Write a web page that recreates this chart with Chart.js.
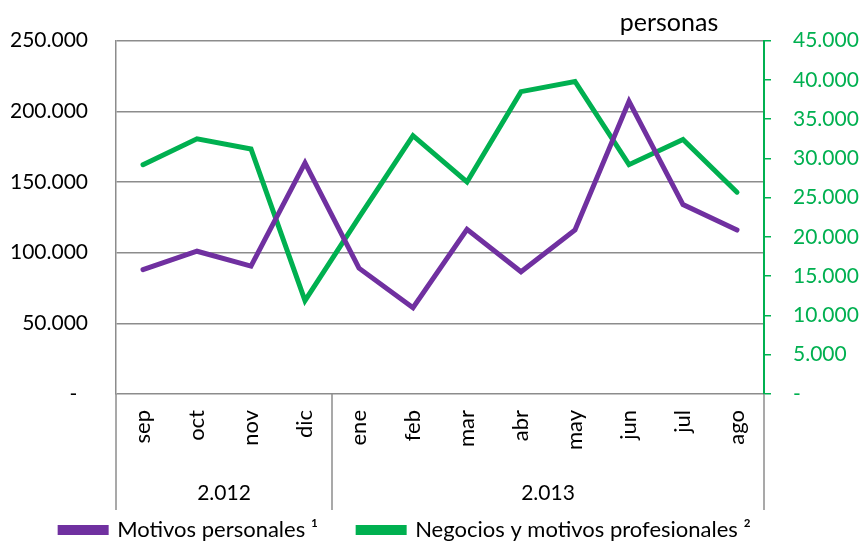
<!DOCTYPE html>
<html><head><meta charset="utf-8">
<script src="https://cdn.jsdelivr.net/npm/chart.js@4.4.0/dist/chart.umd.min.js"></script>
<style>html,body{margin:0;padding:0;background:#fff}</style>
</head><body>
<canvas id="c" width="859" height="542"></canvas>
<script>
const months = ['sep','oct','nov','dic','ene','feb','mar','abr','may','jun','jul','ago'];
const yearLabels = ['2.012','2.013'];
const yearSpans = [4, 8];
const personales = [88000, 101000, 90500, 163500, 89000, 61000, 116500, 86500, 116000, 207000, 134000, 116000];
const negocios = [29200, 32500, 31200, 11900, 22500, 32900, 27000, 38500, 39800, 29200, 32400, 25700];
const leftTickLabels = ['-  ', '50.000', '100.000', '150.000', '200.000', '250.000'];
const rightTickLabels = ['-', '5.000', '10.000', '15.000', '20.000', '25.000', '30.000', '35.000', '40.000', '45.000'];
const unitLabel = 'personas';
const seriesNames = ['Motivos personales \u00B9', 'Negocios y motivos profesionales \u00B2'];

const FONT = 'Lato';
const GRID = '#8c8c8c';
const PURPLE = '#7030A0';
const GREEN = '#00B050';

const groupPlugin = {
  id: 'groupAxis',
  afterLayout(chart) {
    if (chart.legend) { chart.legend.left -= 24; chart.legend.right -= 24; }
  },
  afterDraw(chart) {
    const {ctx, chartArea, scales} = chart;
    const x = scales.x;
    const half = (x.getPixelForValue(1) - x.getPixelForValue(0)) / 2;
    const b = chartArea.bottom;
    ctx.save();
    ctx.strokeStyle = GRID;
    ctx.lineWidth = 1.5;
    let start = 0;
    const edges = [x.getPixelForValue(0) - half];
    yearSpans.forEach(s => { start += s; edges.push(x.getPixelForValue(start - 1) + half); });
    edges.forEach(px => {
      ctx.beginPath(); ctx.moveTo(px, b); ctx.lineTo(px, b + 116); ctx.stroke();
    });
    ctx.fillStyle = '#000';
    ctx.font = '21px ' + FONT;
    ctx.textAlign = 'center';
    ctx.textBaseline = 'middle';
    yearLabels.forEach((t, i) => {
      ctx.fillText(t, (edges[i] + edges[i + 1]) / 2, b + 99);
    });
    ctx.font = '25px ' + FONT;
    ctx.fillText(unitLabel, chartArea.right - 95, chartArea.top - 18);
    ctx.restore();
  }
};

new Chart(document.getElementById('c'), {
  type: 'line',
  data: {
    labels: months,
    datasets: [
      {label: seriesNames[0], data: personales, yAxisID: 'y', borderColor: PURPLE, backgroundColor: PURPLE,
       borderWidth: 5, pointRadius: 0, tension: 0, borderCapStyle: 'round'},
      {label: seriesNames[1], data: negocios, yAxisID: 'y1', borderColor: GREEN, backgroundColor: GREEN,
       borderWidth: 5, pointRadius: 0, tension: 0, borderCapStyle: 'round'}
    ]
  },
  options: {
    responsive: false,
    devicePixelRatio: 1,
    animation: false,
    layout: {padding: {top: 38, left: 0, right: 0, bottom: -9}},
    plugins: {
      tooltip: {enabled: false},
      legend: {
        position: 'bottom',
        labels: {font: {family: FONT, size: 22}, color: '#000', boxWidth: 46, boxHeight: 5, padding: 40}
      }
    },
    scales: {
      x: {
        offset: true,
        grid: {display: false, drawTicks: false},
        border: {display: false},
        ticks: {font: {family: FONT, size: 22}, color: '#000', minRotation: 90, maxRotation: 90, padding: 16, autoSkip: false},
        afterFit(s) { s.height = 85; }
      },
      y: {
        position: 'left',
        min: 0, max: 250000,
        ticks: {stepSize: 50000, font: {family: FONT, size: 21}, color: '#000', padding: 28,
                callback: (v, i) => leftTickLabels[i]},
        grid: {color: GRID, lineWidth: 1.5, drawTicks: false},
        border: {display: true, color: GRID, width: 1.5},
        afterFit(s) { s.width = 116; }
      },
      y1: {
        position: 'right',
        min: 0, max: 45000,
        ticks: {stepSize: 5000, font: {family: FONT, size: 21}, color: GREEN, padding: 22,
                callback: (v, i) => rightTickLabels[i]},
        grid: {drawOnChartArea: false, drawTicks: true, tickLength: 7, color: GREEN, lineWidth: 1.5},
        border: {display: true, color: GREEN, width: 2},
        afterFit(s) { s.width = 95; }
      }
    }
  },
  plugins: [groupPlugin]
});
</script>
</body></html>
